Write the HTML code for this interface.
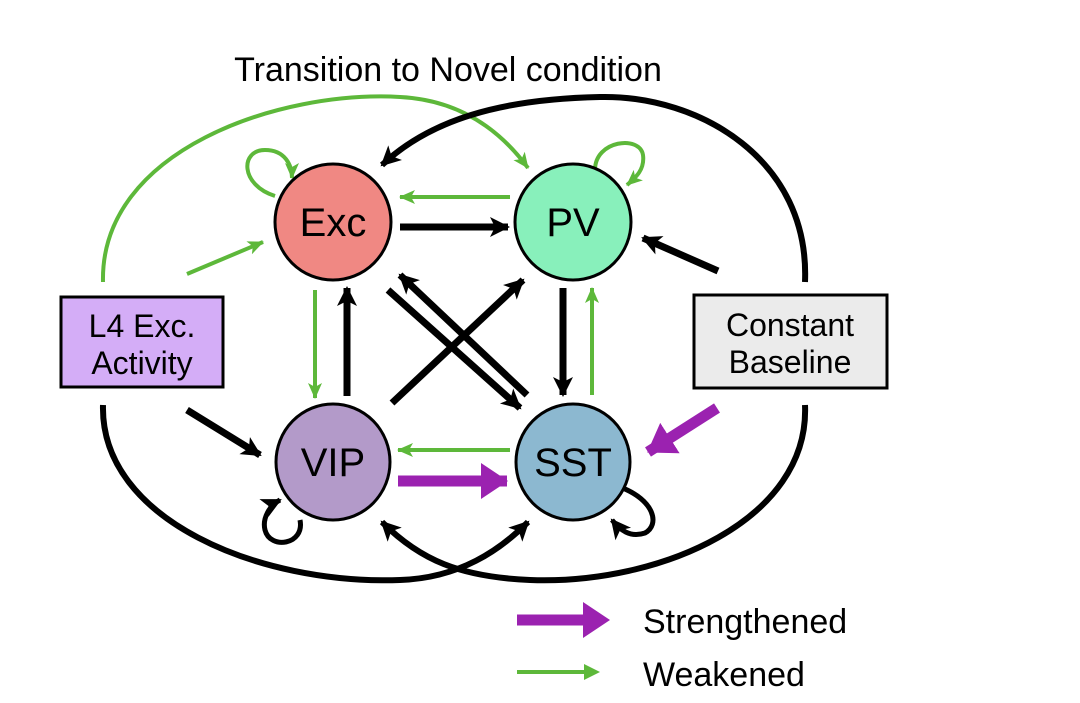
<!DOCTYPE html>
<html><head><meta charset="utf-8"><style>
html,body{margin:0;padding:0;background:#fff;}
svg{display:block;font-family:"Liberation Sans",Arial,sans-serif;}
</style></head><body>
<svg width="1080" height="703" viewBox="0 0 1080 703" xmlns="http://www.w3.org/2000/svg">
<defs>
<marker id="hb" markerUnits="userSpaceOnUse" markerWidth="24" markerHeight="24" refX="18" refY="12" orient="auto"><path d="M0,2 L20,12 L0,22 L5,12 Z" fill="#000"/></marker>
<marker id="hg" markerUnits="userSpaceOnUse" markerWidth="20" markerHeight="20" refX="15" refY="10" orient="auto"><path d="M0,3 L16,10 L0,17 L4,10 Z" fill="#5db83a"/></marker>
<marker id="hp" markerUnits="userSpaceOnUse" markerWidth="30" markerHeight="36" refX="26" refY="18" orient="auto"><path d="M0,0 L27,18 L0,36 Z" fill="#9b22b0"/></marker>
</defs>
<text x="448" y="81" font-size="34" text-anchor="middle">Transition to Novel condition</text>

<!-- big curves -->
<path d="M103,282 C100,150 280,90 400,97 C460,100 500,130 528,168" fill="none" stroke="#5db83a" stroke-width="4" marker-end="url(#hg)"/>
<path d="M805,282 C810,160 700,95 600,97 C500,99 430,120 382,165" fill="none" stroke="#000" stroke-width="6" marker-end="url(#hb)"/>
<path d="M103,405 C100,520 260,585 400,580 C460,578 500,550 528,522" fill="none" stroke="#000" stroke-width="6" marker-end="url(#hb)"/>
<path d="M805,405 C810,520 660,585 530,580 C460,577 420,560 382,522" fill="none" stroke="#000" stroke-width="6" marker-end="url(#hb)"/>

<!-- loops -->
<path d="M275,196 C240,185 240,150 265,150 C285,150 292,165 292,178" fill="none" stroke="#5db83a" stroke-width="4" marker-end="url(#hg)"/>
<path d="M595,170 C595,140 640,135 643,155 C645,170 635,178 627,185" fill="none" stroke="#5db83a" stroke-width="4" marker-end="url(#hg)"/>
<path d="M300,520 C305,545 270,550 265,530 C262,518 270,505 280,500" fill="none" stroke="#000" stroke-width="5" marker-end="url(#hb)"/>
<path d="M620,487 C655,500 660,525 645,533 C630,538 620,530 612,520" fill="none" stroke="#000" stroke-width="5" marker-end="url(#hb)"/>

<!-- straight connectors -->
<line x1="400" y1="227" x2="508" y2="227" stroke="#000" stroke-width="7" marker-end="url(#hb)"/>
<line x1="510" y1="197" x2="400" y2="197" stroke="#5db83a" stroke-width="4" marker-end="url(#hg)"/>
<line x1="563" y1="288" x2="563" y2="395" stroke="#000" stroke-width="7" marker-end="url(#hb)"/>
<line x1="592" y1="395" x2="592" y2="288" stroke="#5db83a" stroke-width="4" marker-end="url(#hg)"/>
<line x1="315" y1="290" x2="315" y2="398" stroke="#5db83a" stroke-width="4" marker-end="url(#hg)"/>
<line x1="347" y1="396" x2="347" y2="288" stroke="#000" stroke-width="7" marker-end="url(#hb)"/>
<line x1="388" y1="290" x2="520" y2="408" stroke="#000" stroke-width="7" marker-end="url(#hb)"/>
<line x1="527" y1="395" x2="400" y2="275" stroke="#000" stroke-width="7" marker-end="url(#hb)"/>
<line x1="392" y1="403" x2="523" y2="280" stroke="#000" stroke-width="7" marker-end="url(#hb)"/>
<line x1="510" y1="450" x2="398" y2="450" stroke="#5db83a" stroke-width="4" marker-end="url(#hg)"/>
<line x1="398" y1="481" x2="507" y2="481" stroke="#9b22b0" stroke-width="11" marker-end="url(#hp)"/>
<line x1="187" y1="274" x2="263" y2="242" stroke="#5db83a" stroke-width="4" marker-end="url(#hg)"/>
<line x1="187" y1="410" x2="260" y2="455" stroke="#000" stroke-width="7" marker-end="url(#hb)"/>
<line x1="718" y1="271" x2="643" y2="238" stroke="#000" stroke-width="7" marker-end="url(#hb)"/>
<line x1="717" y1="408" x2="648" y2="452" stroke="#9b22b0" stroke-width="11" marker-end="url(#hp)"/>

<!-- nodes -->
<ellipse cx="333" cy="222" rx="58" ry="58" fill="#f08883" stroke="#000" stroke-width="3"/>
<ellipse cx="573" cy="222" rx="58" ry="58" fill="#88f0bb" stroke="#000" stroke-width="3"/>
<ellipse cx="333" cy="462" rx="57" ry="58" fill="#b39ac9" stroke="#000" stroke-width="3"/>
<ellipse cx="573" cy="462" rx="57" ry="58" fill="#8cb8d0" stroke="#000" stroke-width="3"/>
<text x="333" y="236" font-size="40" text-anchor="middle">Exc</text>
<text x="573" y="236" font-size="40" text-anchor="middle">PV</text>
<text x="333" y="476" font-size="40" text-anchor="middle">VIP</text>
<text x="573" y="476" font-size="40" text-anchor="middle">SST</text>

<rect x="61" y="297" width="162" height="90" fill="#d4adf7" stroke="#000" stroke-width="3"/>
<text x="142" y="337" font-size="32" text-anchor="middle">L4 Exc.</text>
<text x="142" y="374" font-size="32" text-anchor="middle">Activity</text>
<rect x="694" y="295" width="193" height="93" fill="#ebebeb" stroke="#000" stroke-width="3"/>
<text x="790" y="336" font-size="32" text-anchor="middle">Constant</text>
<text x="790" y="373" font-size="32" text-anchor="middle">Baseline</text>

<!-- legend -->
<line x1="517" y1="620" x2="585" y2="620" stroke="#9b22b0" stroke-width="11"/>
<path d="M583,602 L610,620 L583,638 Z" fill="#9b22b0"/>
<text x="643" y="633" font-size="34">Strengthened</text>
<line x1="517" y1="672" x2="590" y2="672" stroke="#5db83a" stroke-width="4"/>
<path d="M584,664 L600,672 L584,680 Z" fill="#5db83a"/>
<text x="643" y="686" font-size="34">Weakened</text>
</svg>
</body></html>
